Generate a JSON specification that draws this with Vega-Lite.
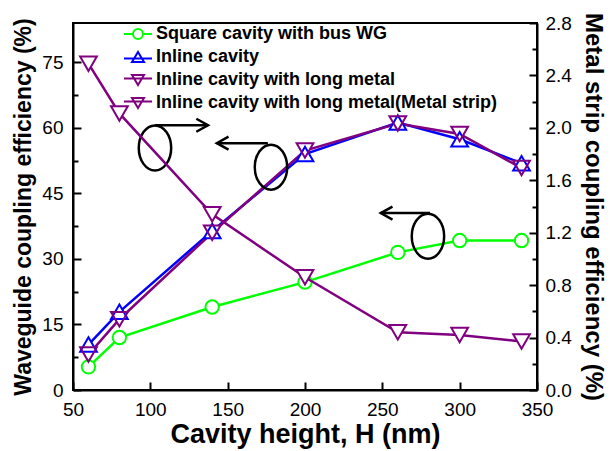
{
  "$schema": "https://vega.github.io/schema/vega-lite/v6.json",
  "width": 464,
  "height": 367,
  "autosize": {"type": "none"},
  "padding": {"left": 73, "top": 23, "right": 73, "bottom": 61},
  "background": "white",
  "config": {
    "view": {"stroke": "black", "strokeWidth": 2},
    "axis": {
      "grid": false,
      "domainColor": "black",
      "domainWidth": 2,
      "tickColor": "black",
      "tickWidth": 2,
      "labelFont": "Liberation Sans",
      "labelFontSize": 19,
      "labelColor": "black",
      "titleFont": "Liberation Sans",
      "titleFontWeight": "bold",
      "titleColor": "black",
      "labelFlush": false,
      "labelOverlap": false
    }
  },
  "datasets": {
    "curves": [
      {"series": "Square cavity with bus WG", "H": 60, "eff": 5.3},
      {"series": "Square cavity with bus WG", "H": 80, "eff": 12.0},
      {"series": "Square cavity with bus WG", "H": 140, "eff": 19.0},
      {"series": "Square cavity with bus WG", "H": 200, "eff": 24.7},
      {"series": "Square cavity with bus WG", "H": 260, "eff": 31.5},
      {"series": "Square cavity with bus WG", "H": 300, "eff": 34.2},
      {"series": "Square cavity with bus WG", "H": 340, "eff": 34.2},
      {"series": "Inline cavity", "H": 60, "eff": 10.4},
      {"series": "Inline cavity", "H": 80, "eff": 17.9},
      {"series": "Inline cavity", "H": 140, "eff": 36.4},
      {"series": "Inline cavity", "H": 200, "eff": 54.0},
      {"series": "Inline cavity", "H": 260, "eff": 61.2},
      {"series": "Inline cavity", "H": 300, "eff": 57.4},
      {"series": "Inline cavity", "H": 340, "eff": 51.9},
      {"series": "Inline cavity with long metal", "H": 60, "eff": 8.1},
      {"series": "Inline cavity with long metal", "H": 80, "eff": 16.2},
      {"series": "Inline cavity with long metal", "H": 140, "eff": 36.0},
      {"series": "Inline cavity with long metal", "H": 200, "eff": 54.8},
      {"series": "Inline cavity with long metal", "H": 260, "eff": 61.0},
      {"series": "Inline cavity with long metal", "H": 300, "eff": 58.6},
      {"series": "Inline cavity with long metal", "H": 340, "eff": 50.8},
      {"series": "Inline cavity with long metal(Metal strip)", "H": 60, "eff": 2.49},
      {"series": "Inline cavity with long metal(Metal strip)", "H": 80, "eff": 2.11},
      {"series": "Inline cavity with long metal(Metal strip)", "H": 140, "eff": 1.34},
      {"series": "Inline cavity with long metal(Metal strip)", "H": 200, "eff": 0.86},
      {"series": "Inline cavity with long metal(Metal strip)", "H": 260, "eff": 0.44},
      {"series": "Inline cavity with long metal(Metal strip)", "H": 300, "eff": 0.42},
      {"series": "Inline cavity with long metal(Metal strip)", "H": 340, "eff": 0.37}
    ],
    "ellipses": [
      {"H": 103, "eff": 55.4},
      {"H": 178, "eff": 51.0},
      {"H": 279.5, "eff": 35.2}
    ],
    "shafts": [
      {"H": 103, "H2": 137.3, "eff": 60.6},
      {"H": 143, "H2": 176, "eff": 56.5},
      {"H": 249, "H2": 280.8, "eff": 40.5}
    ],
    "heads": [
      {"H": 137.3, "eff": 60.6, "dir": "right"},
      {"H": 143, "eff": 56.5, "dir": "left"},
      {"H": 249, "eff": 40.5, "dir": "left"}
    ]
  },
  "layer": [
    {
      "data": {"name": "curves"},
      "encoding": {
        "x": {
          "field": "H",
          "type": "quantitative",
          "scale": {"domain": [50, 350], "nice": false, "zero": false},
          "axis": {
            "title": "Cavity height, H (nm)",
            "titleFontSize": 27,
            "titlePadding": 2,
            "values": [50, 75, 100, 125, 150, 175, 200, 225, 250, 275, 300, 325, 350],
            "labelExpr": "datum.value % 50 === 0 ? datum.label : ''",
            "tickSize": {"condition": {"test": "datum.value % 50 === 0", "value": -8}, "value": -5},
            "labelPadding": 18
          }
        },
        "y": {
          "field": "eff",
          "type": "quantitative",
          "scale": {"domain": [0, 84], "nice": false, "zero": false},
          "axis": {
            "orient": "left",
            "title": "Waveguide coupling efficiency (%)",
            "titleFontSize": 23,
            "titlePadding": 6,
            "values": [0, 7.5, 15, 22.5, 30, 37.5, 45, 52.5, 60, 67.5, 75],
            "labelExpr": "datum.value % 15 === 0 ? datum.label : ''",
            "tickSize": {"condition": {"test": "datum.value % 15 === 0", "value": -8}, "value": -5},
            "labelPadding": 18
          }
        }
      },
      "layer": [
        {
          "transform": [{"filter": "datum.series === 'Square cavity with bus WG'"}],
          "mark": {"type": "line", "color": "#00ff00", "strokeWidth": 2.5}
        },
        {
          "transform": [{"filter": "datum.series === 'Inline cavity'"}],
          "mark": {"type": "line", "color": "#0000ff", "strokeWidth": 2.5}
        },
        {
          "transform": [{"filter": "datum.series === 'Inline cavity with long metal'"}],
          "mark": {"type": "line", "color": "#800080", "strokeWidth": 2.5}
        },
        {
          "transform": [{"filter": "datum.series === 'Square cavity with bus WG'"}],
          "mark": {"type": "point", "shape": "circle", "size": 180, "filled": true, "color": "white", "opacity": 1}
        },
        {
          "transform": [{"filter": "datum.series === 'Inline cavity'"}],
          "mark": {"type": "point", "shape": "triangle-up", "size": 280, "filled": true, "color": "white", "opacity": 1}
        },
        {
          "transform": [{"filter": "datum.series === 'Inline cavity with long metal'"}],
          "mark": {"type": "point", "shape": "triangle-down", "size": 280, "filled": true, "color": "white", "opacity": 1}
        },
        {
          "transform": [{"filter": "datum.series === 'Square cavity with bus WG'"}],
          "mark": {"type": "point", "shape": "circle", "size": 180, "filled": false, "color": "#00ff00", "strokeWidth": 2, "opacity": 1}
        },
        {
          "transform": [{"filter": "datum.series === 'Inline cavity'"}],
          "mark": {"type": "point", "shape": "triangle-up", "size": 280, "filled": false, "color": "#0000ff", "strokeWidth": 2, "opacity": 1}
        },
        {
          "transform": [{"filter": "datum.series === 'Inline cavity with long metal'"}],
          "mark": {"type": "point", "shape": "triangle-down", "size": 280, "filled": false, "color": "#800080", "strokeWidth": 2, "opacity": 1}
        },
        {
          "data": {"name": "ellipses"},
          "mark": {"type": "point", "shape": "M -0.72 0 A 0.72 1 0 1 1 0.72 0 A 0.72 1 0 1 1 -0.72 0 Z", "size": 2025, "filled": false, "color": "black", "strokeWidth": 2.5, "opacity": 1}
        },
        {
          "data": {"name": "shafts"},
          "mark": {"type": "rule", "color": "black", "strokeWidth": 2.5},
          "encoding": {"x2": {"field": "H2"}}
        },
        {
          "data": {"name": "heads"},
          "transform": [{"filter": "datum.dir === 'right'"}],
          "mark": {"type": "point", "shape": "M -1.8 -1 L 0 0 L -1.8 1", "size": 169, "filled": false, "color": "black", "strokeWidth": 2.5, "opacity": 1}
        },
        {
          "data": {"name": "heads"},
          "transform": [{"filter": "datum.dir === 'left'"}],
          "mark": {"type": "point", "shape": "M 1.8 -1 L 0 0 L 1.8 1", "size": 169, "filled": false, "color": "black", "strokeWidth": 2.5, "opacity": 1}
        },
        {
          "transform": [{"filter": "datum.H < 0"}],
          "mark": {"type": "point", "filled": false, "strokeWidth": 2, "opacity": 1},
          "encoding": {
            "color": {
              "field": "series",
              "type": "nominal",
              "scale": {
                "domain": ["Square cavity with bus WG", "Inline cavity", "Inline cavity with long metal", "Inline cavity with long metal(Metal strip)"],
                "range": ["#00ff00", "#0000ff", "#800080", "#800080"]
              },
              "legend": {
                "orient": "none", "legendX": 54, "legendY": 0, "title": null, "padding": 0,
                "labelFont": "Liberation Sans", "labelFontSize": 18, "labelFontWeight": "bold", "labelColor": "black",
                "labelLimit": 500, "symbolSize": 400, "symbolStrokeWidth": 2, "labelOffset": 7, "rowPadding": 3
              }
            },
            "shape": {
              "field": "series",
              "type": "nominal",
              "scale": {
                "domain": ["Square cavity with bus WG", "Inline cavity", "Inline cavity with long metal", "Inline cavity with long metal(Metal strip)"],
                "range": [
                  "M -1.4 0 L -0.5 0 M 0.5 0 L 1.4 0 M 0.5 0 A 0.5 0.5 0 1 1 -0.5 0 A 0.5 0.5 0 1 1 0.5 0 Z",
                  "M -1.4 0.15 L 1.4 0.15 M 0 -0.5 L 0.6 0.5 L -0.6 0.5 Z",
                  "M -1.4 -0.15 L 1.4 -0.15 M 0 0.5 L 0.6 -0.5 L -0.6 -0.5 Z",
                  "M -1.4 -0.15 L 1.4 -0.15 M 0 0.5 L 0.6 -0.5 L -0.6 -0.5 Z"
                ]
              },
              "legend": {
                "orient": "none", "legendX": 54, "legendY": 0, "title": null, "padding": 0,
                "labelFont": "Liberation Sans", "labelFontSize": 18, "labelFontWeight": "bold", "labelColor": "black",
                "labelLimit": 500, "symbolSize": 400, "symbolStrokeWidth": 2, "labelOffset": 7, "rowPadding": 3
              }
            }
          }
        }
      ]
    },
    {
      "data": {"name": "curves"},
      "transform": [{"filter": "datum.series === 'Inline cavity with long metal(Metal strip)'"}],
      "encoding": {
        "x": {"field": "H", "type": "quantitative", "scale": {"domain": [50, 350], "nice": false, "zero": false}},
        "y": {
          "field": "eff",
          "type": "quantitative",
          "scale": {"domain": [0, 2.8], "nice": false, "zero": false},
          "axis": {
            "orient": "right",
            "title": "Metal strip coupling efficiency (%)",
            "titleFontSize": 24,
            "titlePadding": 9,
            "values": [0, 0.2, 0.4, 0.6, 0.8, 1.0, 1.2, 1.4, 1.6, 1.8, 2.0, 2.2, 2.4, 2.6, 2.8],
            "labelExpr": "round(datum.value * 10) % 4 === 0 ? format(datum.value, '.1f') : ''",
            "tickSize": {"condition": {"test": "round(datum.value * 10) % 4 === 0", "value": -8}, "value": -5},
            "labelPadding": 16
          }
        }
      },
      "layer": [
        {"mark": {"type": "line", "color": "#800080", "strokeWidth": 2.5}},
        {"mark": {"type": "point", "shape": "triangle-down", "size": 280, "filled": true, "color": "white", "opacity": 1}},
        {"mark": {"type": "point", "shape": "triangle-down", "size": 280, "filled": false, "color": "#800080", "strokeWidth": 2, "opacity": 1}}
      ]
    }
  ],
  "resolve": {"scale": {"y": "independent"}}
}
